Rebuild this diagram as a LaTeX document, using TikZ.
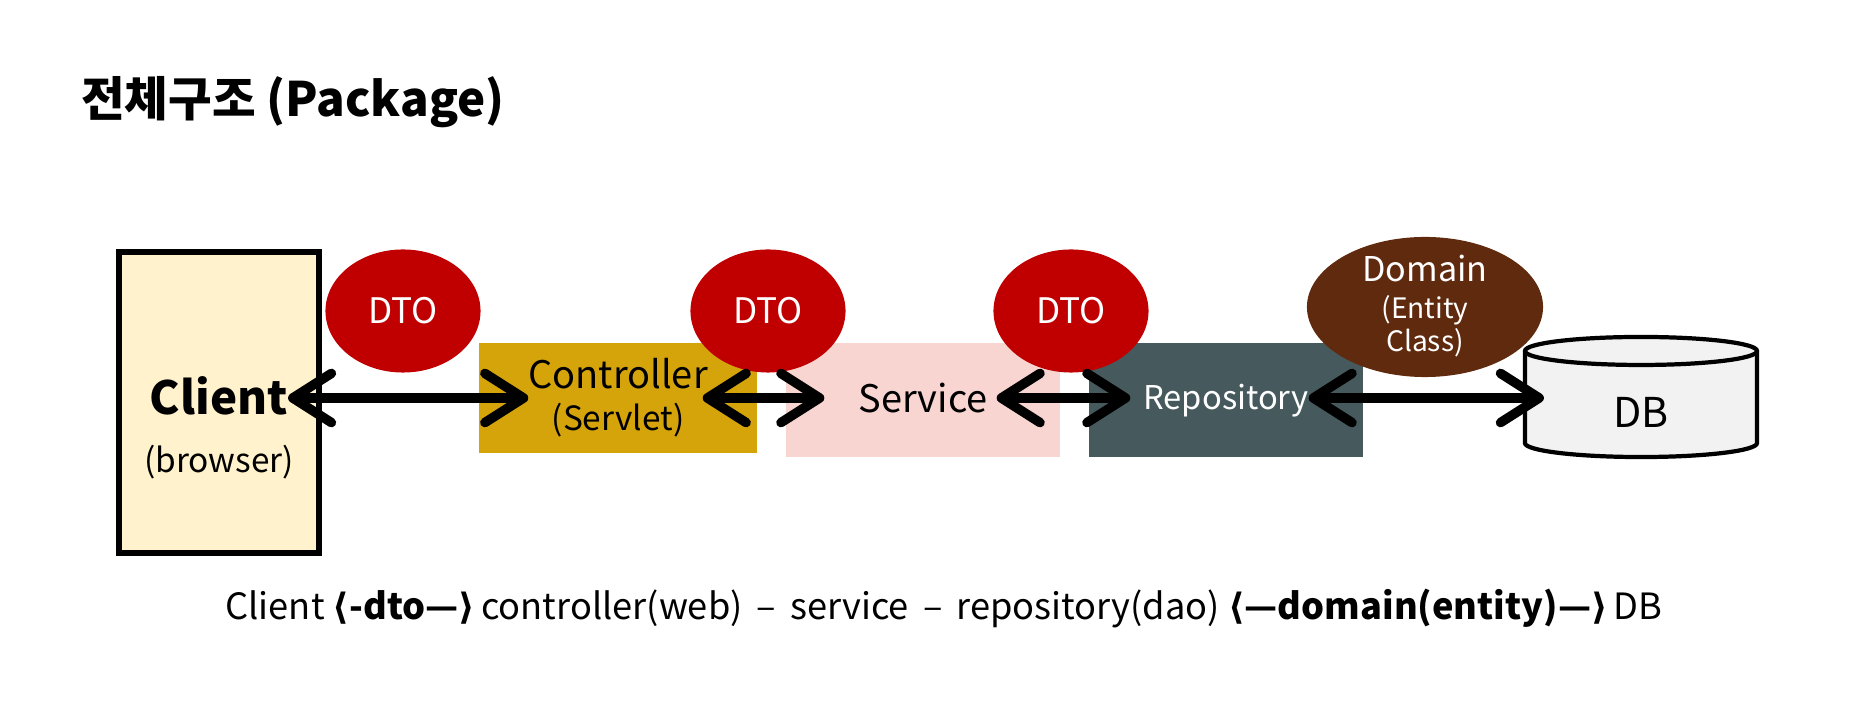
\documentclass[tikz,border=0pt]{standalone}
\usepackage{fontspec}
\setmainfont{Noto Sans CJK KR}
\newfontfamily\brk{DejaVu Sans}
\usetikzlibrary{shapes.geometric,arrows.meta,positioning}

\definecolor{clientfill}{HTML}{FFF2CC}
\definecolor{ctrlfill}{HTML}{D5A40B}
\definecolor{svcfill}{HTML}{F8D5D0}
\definecolor{repofill}{HTML}{465A5E}
\definecolor{dtored}{HTML}{C00000}
\definecolor{domainbrown}{HTML}{5F2A0E}
\definecolor{dbfill}{HTML}{F2F2F2}

\newcommand{\fsz}[1]{\fontsize{#1}{#1}\selectfont}

\begin{document}
\begin{tikzpicture}[x=0.01cm,y=-0.01cm,
  box/.style={inner sep=0pt,outer sep=0pt},
  dto/.style={ellipse,fill=dtored,minimum width=1.55cm,minimum height=1.23cm,
    inner sep=0pt,text=white,font=\fsz{10pt}},
  lbl/.style={inner sep=0pt,outer sep=0pt},
  barb/.tip={Straight Barb[length=11pt,width=14pt,round]},
  biarrow/.style={barb-barb,line width=2.7pt}]
  \useasboundingbox (0,0) rectangle (1868,728);

  % title
  \node[lbl,anchor=base west,font=\fsz{13.5pt}\bfseries] (title) at (81,117) {전체구조 (Package)};

  % layers
  \node[box,draw=black,line width=1.6pt,fill=clientfill,minimum width=2cm,minimum height=3.01cm] (client) at (219,402.5) {};
  \node[box,fill=ctrlfill,minimum width=2.78cm,minimum height=1.10cm] (ctrl) at (618,398) {};
  \node[box,fill=svcfill,minimum width=2.74cm,minimum height=1.14cm] (svc) at (923,400) {};
  \node[box,fill=repofill,minimum width=2.74cm,minimum height=1.14cm] (repo) at (1226,400) {};

  % transfer objects
  \node[dto] (dto1) at (403,311) {DTO};
  \node[dto] (dto2) at (768,311) {DTO};
  \node[dto] (dto3) at (1071,311) {DTO};
  \node[ellipse,fill=domainbrown,minimum width=2.36cm,minimum height=1.40cm] (domain) at (1425,307) {};
  \node[lbl,text=white,font=\fsz{9.7pt}] (domainlbl) at (1425,269) {Domain};
  \node[lbl,text=white,font=\fsz{8pt}] (entitylbl) at (1425,310) {(Entity};
  \node[lbl,text=white,font=\fsz{8pt}] (classlbl) at (1425,343) {Class)};

  % database
  \node[box,minimum width=2.32cm,minimum height=1.20cm] (db) at (1641,397) {};
  \filldraw[fill=dbfill,line width=1.2pt] ([yshift=-0.14cm]db.north west)
    -- ([yshift=0.14cm]db.south west) arc[start angle=180,end angle=360,x radius=1.16cm,y radius=0.14cm]
    -- ([yshift=-0.14cm]db.north east) arc[start angle=0,end angle=180,x radius=1.16cm,y radius=0.14cm]
    -- cycle;
  \draw[line width=1.2pt] ([yshift=-0.14cm]db.north west)
    arc[start angle=180,end angle=360,x radius=1.16cm,y radius=0.14cm];

  % labels
  \node[lbl,font=\fsz{13pt}\bfseries] (clientlbl) at (219,396) {Client};
  \node[lbl,font=\fsz{9.5pt}] (browserlbl) at (219,462) {(browser)};
  \node[lbl,font=\fsz{10.8pt}] (ctrllbl) at (618,374) {Controller};
  \node[lbl,font=\fsz{9.5pt}] (servletlbl) at (618,420) {(Servlet)};
  \node[lbl,font=\fsz{10.8pt}] (svclbl) at (923,398) {Service};
  \node[lbl,font=\fsz{9.3pt},text=white] (repolbl) at (1226,401) {Repository};
  \node[lbl,font=\fsz{11.7pt}] (dblbl) at (1641,412) {DB};

  % connectors
  \draw[biarrow] (clientlbl.east |- svclbl.west) -- (ctrllbl.west |- svclbl.west);
  \draw[biarrow] ([xshift=-0.05cm]ctrllbl.east |- svclbl.west) -- ([xshift=-0.34cm]svclbl.west);
  \draw[biarrow] ([xshift=0.09cm]svclbl.east) -- ([xshift=-0.13cm]repolbl.west |- svclbl.west);
  \draw[biarrow] (repolbl.east |- svclbl.west) -- ([xshift=0.19cm]db.west |- svclbl.west);

  % summary line
  \node[lbl,anchor=base,font=\fsz{10.3pt}] (summary) at (944,620)
    {Client {\bfseries\brk ⟨}\textbf{-dto—}{\bfseries\brk ⟩}\,controller(web) \,–\, service \,–\, repository(dao) {\bfseries\brk ⟨}\textbf{—domain(entity)—}{\bfseries\brk ⟩}\,DB};
\end{tikzpicture}
\end{document}
